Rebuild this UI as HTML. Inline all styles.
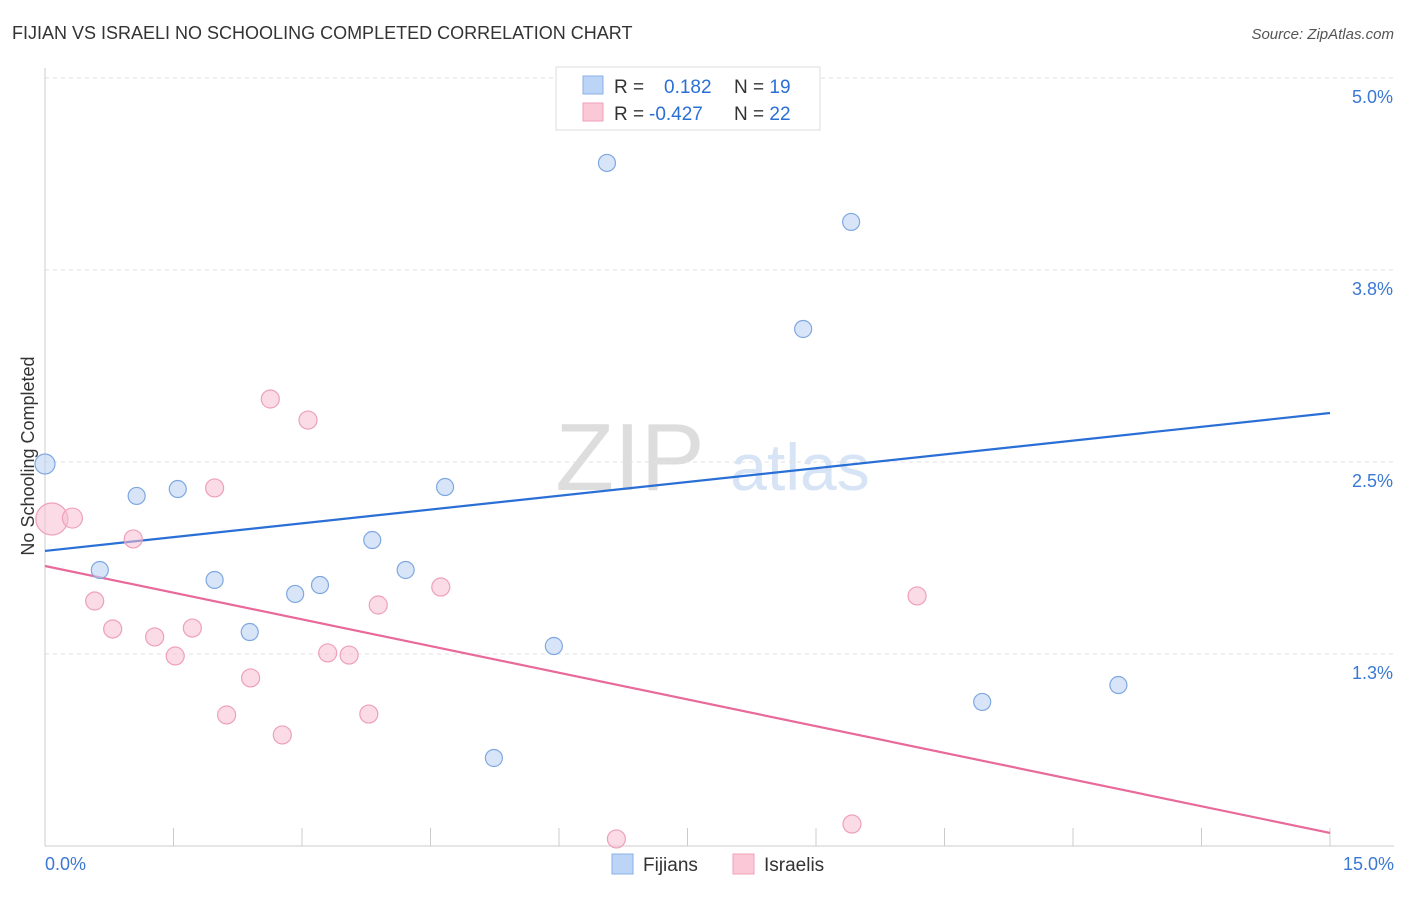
<!DOCTYPE html>
<html><head><meta charset="utf-8"><style>
body{margin:0;background:#fff;font-family:"Liberation Sans",sans-serif;}
svg text{font-family:"Liberation Sans",sans-serif;}
</style></head><body>
<svg width="1406" height="892" id="chart">
<text x="12" y="39" font-size="18" fill="#333">FIJIAN VS ISRAELI NO SCHOOLING COMPLETED CORRELATION CHART</text>
<text x="1394" y="39" font-size="15" fill="#555" text-anchor="end" font-style="italic">Source: ZipAtlas.com</text>
<text x="630" y="490" font-size="96" fill="#ddd" font-family="Liberation Serif" text-anchor="middle">ZIP</text>
<text x="800" y="490" font-size="66" fill="#d6e4f5" text-anchor="middle">atlas</text>
<g id="grid"></g><g id="axes"></g><g id="lines"></g><g id="points"></g>
<text transform="translate(34,456) rotate(-90)" font-size="18" fill="#333" text-anchor="middle">No Schooling Completed</text>
<g>
<rect x="556" y="67" width="264" height="63" fill="#fff" stroke="#ddd"/>
<rect x="583" y="76" width="20" height="18" fill="#bcd4f6" stroke="#8ab0e8"/>
<rect x="583" y="103" width="20" height="18" fill="#fac8d6" stroke="#f0a0b8"/>
<text x="614" y="93" font-size="19" fill="#333">R = <tspan fill="#2a6fd6" x="664">0.182</tspan><tspan x="734" fill="#333">N = </tspan><tspan fill="#2a6fd6">19</tspan></text>
<text x="614" y="120" font-size="19" fill="#333">R = <tspan fill="#2a6fd6" x="649">-0.427</tspan><tspan x="734" fill="#333">N = </tspan><tspan fill="#2a6fd6">22</tspan></text>
</g>
<g>
<rect x="612" y="854" width="21" height="20" fill="#bcd4f6" stroke="#8ab0e8"/>
<text x="643" y="871" font-size="19" fill="#333">Fijians</text>
<rect x="733" y="854" width="21" height="20" fill="#fac8d6" stroke="#f0a0b8"/>
<text x="764" y="871" font-size="19" fill="#333">Israelis</text>
</g>
</svg>
<script>
const fijX=[0.00,1.07,1.55,0.64,1.98,2.39,2.92,3.21,3.82,4.21,4.67,5.24,5.94,6.56,8.85,9.41,10.94,12.53];
const fijY=[2.487,2.279,2.324,1.797,1.732,1.393,1.641,1.699,1.992,1.797,2.337,0.573,1.302,4.447,3.366,4.063,0.938,1.048];
const isrX=[0.08,0.32,1.03,0.58,0.79,1.28,1.52,1.72,1.98,2.12,2.40,2.63,2.77,3.07,3.30,3.55,3.78,3.89,4.62,6.67,9.42,10.18];
const isrY=[2.129,2.135,1.999,1.595,1.413,1.361,1.237,1.419,2.331,0.853,1.094,2.910,0.723,2.773,1.257,1.243,0.859,1.569,1.686,0.046,0.143,1.628];
const isrR=[16,10,9,9,9,9,9,9,9,9,9,9,9,9,9,9,9,9,9,9,9,9];
const yTicks=[5.0,3.75,2.5,1.25];
const yTickLabels=["5.0%","3.8%","2.5%","1.3%"];
const fijLine=[1.921,2.819];
const isrLine=[1.823,0.085];
const xs=v=>45+v/15*1285, ys=v=>846-v*153.6;
const NS="http://www.w3.org/2000/svg";
function mk(p,t,a){const e=document.createElementNS(NS,t);for(const k in a)e.setAttribute(k,a[k]);document.getElementById(p).appendChild(e);return e;}
yTicks.forEach((t,i)=>{
 const l=mk('grid','line',{x1:45,x2:1394,y1:ys(t),y2:ys(t),stroke:'#e2e2e2','stroke-dasharray':'4,4'});
 
 
 const tx=mk('grid','text',{x:1393,y:ys(t)+25,'font-size':18,fill:'#3a78d4','text-anchor':'end'});
 tx.textContent=yTickLabels[i];
 
 
});
const ax=mk('axes','line',{x1:45,x2:45,y1:68,y2:846,stroke:'#ccc'});


const bx=mk('axes','line',{x1:45,x2:1394,y1:846,y2:846,stroke:'#ccc'});


for(let i=0;i<=10;i++){const t=mk('axes','line',{x1:xs(i*1.5),x2:xs(i*1.5),y1:828,y2:846,stroke:'#ccc'});
 
 }
[[0,"0.0%",'start',45],[15,"15.0%",'end',1394]].forEach(d=>{const t=mk('axes','text',{x:d[3],y:870,'font-size':18,fill:'#3a78d4','text-anchor':d[2]});t.textContent=d[1];
 
 });
const bl=mk('lines','line',{x1:xs(0),y1:ys(fijLine[0]),x2:xs(15),y2:ys(fijLine[1]),stroke:'#2a6fd6','stroke-width':2.2});


const pl=mk('lines','line',{x1:xs(0),y1:ys(isrLine[0]),x2:xs(15),y2:ys(isrLine[1]),stroke:'#e8699a','stroke-width':2.2});


isrX.forEach((x,i)=>{const c=mk('points','circle',{cx:xs(x),cy:ys(isrY[i]),r:isrR[i],fill:'rgba(248,190,208,0.55)',stroke:'#eea0ba','stroke-width':1.2});
 
 });
fijX.forEach((x,i)=>{const c=mk('points','circle',{cx:xs(x),cy:ys(fijY[i]),r:i==0?10:8.5,fill:'rgba(190,212,245,0.6)',stroke:'#7fa8e0','stroke-width':1.2});
 
 });
</script>
</body></html>
